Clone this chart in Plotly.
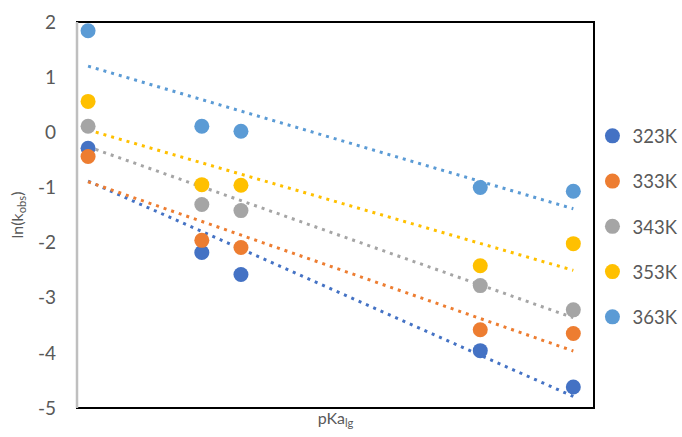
import numpy as np
import plotly.graph_objects as go

pka_lg = [4.15, 5.69, 6.22, 9.46, 10.72]
series_names = ["323K", "333K", "343K", "353K", "363K"]
ln_k_323 = [-0.29, -2.18, -2.58, -3.96, -4.62]
ln_k_333 = [-0.44, -1.96, -2.09, -3.58, -3.65]
ln_k_343 = [0.11, -1.31, -1.42, -2.78, -3.22]
ln_k_353 = [0.56, -0.95, -0.96, -2.42, -2.02]
ln_k_363 = [1.84, 0.11, 0.02, -1.00, -1.07]
y_ticks = [-5, -4, -3, -2, -1, 0, 1, 2]
y_tick_labels = ["-5", "-4", "-3", "-2", "-1", "0", "1", "2"]
colors = ["#4472C4", "#ED7D31", "#A5A5A5", "#FFC000", "#5B9BD5"]

all_series = [ln_k_323, ln_k_333, ln_k_343, ln_k_353, ln_k_363]

fig = go.Figure()
xs = np.array(pka_lg)
for name, ys, c in zip(series_names, all_series, colors):
    m, b = np.polyfit(xs, np.array(ys), 1)
    xl = [xs.min(), xs.max()]
    fig.add_trace(go.Scatter(x=xl, y=[m * v + b for v in xl], mode="lines",
                             line=dict(color=c, width=3, dash="3px,5px"),
                             showlegend=False, hoverinfo="skip"))
for name, ys, c in zip(series_names, all_series, colors):
    fig.add_trace(go.Scatter(x=pka_lg, y=ys, mode="markers", name=name,
                             legendgroup=name,
                             marker=dict(color=c, size=15, line=dict(width=0))))

font_family = "Lato, 'Open Sans', sans-serif"
fig.update_layout(
    width=682, height=437,
    margin=dict(l=77, r=88, t=22, b=29, autoexpand=False),
    paper_bgcolor="white", plot_bgcolor="white",
    font=dict(family=font_family, color="#595959"),
    showlegend=True,
    legend=dict(x=0.997, xanchor="left", y=0.753, yanchor="top",
                font=dict(size=18.5, color="#595959"),
                tracegroupgap=18.2, itemwidth=30,
                bgcolor="rgba(0,0,0,0)"),
    xaxis=dict(range=[4, 11], showticklabels=False, ticks="", showgrid=False,
               zeroline=False, showline=False, automargin=False,
               title=dict(text="pKa<sub>lg</sub>", font=dict(size=16, color="#595959"),
                          standoff=4)),
    yaxis=dict(range=[-5, 2], tickvals=y_ticks, ticktext=y_tick_labels,
               showgrid=False, zeroline=False, automargin=False,
               showline=False, ticks="",
               tickfont=dict(size=19, color="#595959"),
               ticklabelstandoff=20,
               title=dict(text="ln(k<sub>obs</sub>)", font=dict(size=16, color="#595959"),
                          standoff=10)),
    shapes=[
        dict(type="rect", xref="paper", yref="paper", x0=0, x1=1, y0=0, y1=1,
             line=dict(color="black", width=2), layer="above"),
        dict(type="line", xref="paper", yref="paper", x0=0, x1=0, y0=0, y1=1,
             line=dict(color="#BFBFBF", width=2.5), layer="above"),
    ],
)
fig.write_html("out.html", config={"displayModeBar": False},
               post_script="document.body.style.margin='0';document.body.style.overflow='hidden';")
